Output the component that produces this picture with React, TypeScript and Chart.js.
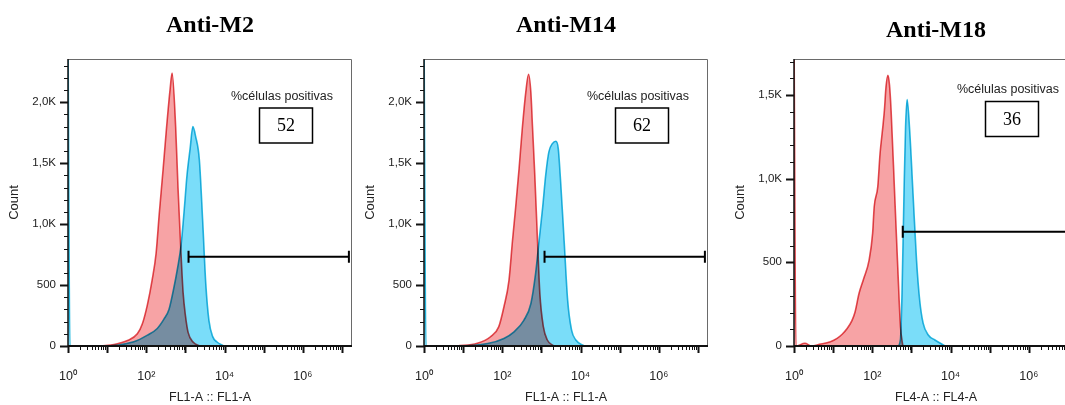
import React, { useEffect, useRef } from 'react';
import { Chart, registerables } from 'chart.js';

Chart.register(...registerables);

// ---------- data ----------
const TITLES = ['Anti-M2', 'Anti-M14', 'Anti-M18'];
const X_AXIS_TITLES = ['FL1-A :: FL1-A', 'FL1-A :: FL1-A', 'FL4-A :: FL4-A'];
const Y_AXIS_TITLE = 'Count';
const POSITIVE_LABEL = '%células positivas';
const POSITIVE_PCT = ['52', '62', '36'];

const X_MIN = 1;
const X_MAX = 1.8e7;
const X_TICKS = [1, 100, 10000, 1000000];
const X_TICK_LABELS = ['10⁰', '10²', '10⁴', '10⁶'];

const Y_MAX = [2355, 2355, 1715];
const Y_TICKS_M2_M14 = [0, 500, 1000, 1500, 2000];
const Y_TICK_LABELS_M2_M14 = ['0', '500', '1,0K', '1,5K', '2,0K'];
const Y_TICKS_M18 = [0, 500, 1000, 1500];
const Y_TICK_LABELS_M18 = ['0', '500', '1,0K', '1,5K'];
const Y_MINOR_STEP = 100;
const Y_MAJOR_STEP = 500;

const GATE_START = [1200, 1200, 600];
const GATE_END = [1.5e7, 1.5e7, 1.5e7];
const GATE_Y = [733, 733, 683];

// Anti-M2: control (red) and stained (cyan)
const M2_CTRL_X = [7, 15, 33, 59, 79, 107, 141, 178, 214, 269, 331, 407, 457, 562, 646, 750, 871, 1000, 1175, 1585, 2400];
const M2_CTRL_Y = [0, 12, 45, 100, 180, 340, 540, 760, 1080, 1450, 1800, 2110, 2240, 1800, 1300, 840, 440, 250, 110, 30, 0];
const M2_STAIN_X = [1, 1.12, 7, 48, 107, 191, 282, 380, 501, 631, 776, 933, 1096, 1318, 1549, 1820, 2265, 2754, 3311, 3981, 5012, 6310, 9550];
const M2_STAIN_Y = [2600, 0, 0, 35, 89, 144, 220, 300, 470, 640, 830, 1120, 1400, 1620, 1800, 1720, 1530, 1030, 510, 210, 75, 35, 0];

// Anti-M14
const M14_CTRL_X = [7, 23, 50, 81, 110, 148, 182, 219, 269, 324, 398, 468, 537, 589, 676, 794, 912, 1122, 1413, 2089];
const M14_CTRL_Y = [0, 22, 76, 157, 320, 537, 862, 1133, 1458, 1783, 2081, 2230, 2081, 1810, 1404, 862, 428, 157, 49, 0];
const M14_STAIN_X = [1, 1.12, 7, 42, 110, 200, 355, 537, 708, 871, 1072, 1288, 1549, 1905, 2344, 2692, 3090, 3802, 4677, 5888, 7586, 12300];
const M14_STAIN_Y = [2600, 0, 0, 20, 62, 116, 211, 347, 591, 862, 1133, 1404, 1593, 1661, 1680, 1620, 1350, 862, 374, 130, 49, 0];

// Anti-M18
const M18_CTRL_X = [1, 1.12, 1.9, 2.8, 4.5, 8.5, 12.6, 17, 22, 30, 36, 46, 60, 83, 102, 112, 138, 158, 186, 204, 224, 251, 275, 302, 372, 447, 525, 603];
const M18_CTRL_Y = [1900, 0, 16, 0, 10, 26, 46, 70, 100, 150, 200, 315, 400, 513, 673, 832, 951, 1150, 1309, 1409, 1548, 1618, 1560, 1409, 912, 473, 115, 0];
const M18_STAIN_X = [1, 447, 525, 575, 646, 708, 776, 891, 1096, 1349, 1622, 1995, 2692, 3981, 7244];
const M18_STAIN_Y = [0, 0, 40, 316, 913, 1309, 1473, 1309, 913, 513, 275, 135, 66, 36, 0];

const CTRL_X = [M2_CTRL_X, M14_CTRL_X, M18_CTRL_X];
const CTRL_Y = [M2_CTRL_Y, M14_CTRL_Y, M18_CTRL_Y];
const STAIN_X = [M2_STAIN_X, M14_STAIN_X, M18_STAIN_X];
const STAIN_Y = [M2_STAIN_Y, M14_STAIN_Y, M18_STAIN_Y];
const Y_TICKS = [Y_TICKS_M2_M14, Y_TICKS_M2_M14, Y_TICKS_M18];
const Y_TICK_LABELS = [Y_TICK_LABELS_M2_M14, Y_TICK_LABELS_M2_M14, Y_TICK_LABELS_M18];

// ---------- layout / style ----------
const CANVAS_W = 358;
const CANVAS_H = 405;
const CANVAS_LEFT = [0, 356, 726];
const Y_AXIS_W = 68;
const X_AXIS_H = 59;
const TITLE_PAD_TOP = [11, 11, 16];
const TITLE_PAD_BOTTOM = [19.2, 19.2, 14.2];
const LABEL_DY = [38, 38, 31];
const BOX_DY = [66.5, 66.5, 60];

const RED_LINE = 'rgb(226,78,84)';
const RED_FILL = 'rgb(247,163,165)';
const CYAN_LINE = 'rgb(40,186,222)';
const CYAN_FILL = 'rgb(122,221,249)';
const SANS = "'Liberation Sans', Arial, sans-serif";
const SERIF = "'Liberation Serif', 'Times New Roman', serif";

function makePlugin(i: number) {
  return {
    id: 'flowDecor' + i,
    beforeDatasetsDraw(chart: any) {
      chart.ctx.save();
      chart.ctx.globalCompositeOperation = 'multiply';
    },
    afterDatasetsDraw(chart: any) {
      chart.ctx.restore();
    },
    afterDraw(chart: any) {
      const { ctx, chartArea: a, scales } = chart;
      const xs = scales.x;
      const ys = scales.y;
      ctx.save();
      // frame
      ctx.strokeStyle = '#6a6a6a';
      ctx.lineWidth = 1;
      ctx.beginPath();
      ctx.moveTo(a.left, a.top + 0.5);
      ctx.lineTo(a.right - 0.5, a.top + 0.5);
      ctx.lineTo(a.right - 0.5, a.bottom);
      ctx.stroke();
      ctx.strokeStyle = '#111';
      ctx.lineWidth = 1.5;
      ctx.beginPath();
      ctx.moveTo(a.left, a.top);
      ctx.lineTo(a.left, a.bottom);
      ctx.stroke();
      ctx.lineWidth = 2;
      ctx.beginPath();
      ctx.moveTo(a.left, a.bottom);
      ctx.lineTo(a.right, a.bottom);
      ctx.stroke();
      // y tick marks
      for (let v = 0; v <= Y_MAX[i]; v += Y_MINOR_STEP) {
        const y = Math.round(ys.getPixelForValue(v)) + 0.5;
        const major = v % Y_MAJOR_STEP === 0;
        ctx.lineWidth = major ? 2 : 1;
        ctx.beginPath();
        ctx.moveTo(a.left - (major ? 8 : 4), y);
        ctx.lineTo(a.left, y);
        ctx.stroke();
      }
      // x tick marks
      for (let e = 0; e <= 7; e++) {
        for (let m = 1; m <= 9; m++) {
          const v = m * Math.pow(10, e);
          if (v > X_MAX) break;
          const x = Math.round(xs.getPixelForValue(v)) + 0.5;
          const major = m === 1;
          ctx.lineWidth = major ? 2 : 1;
          ctx.beginPath();
          ctx.moveTo(x, a.bottom);
          ctx.lineTo(x, a.bottom + (major ? 7 : 4));
          ctx.stroke();
        }
      }
      // gate
      const gx1 = xs.getPixelForValue(GATE_START[i]);
      const gx2 = xs.getPixelForValue(GATE_END[i]);
      const gy = ys.getPixelForValue(GATE_Y[i]);
      ctx.strokeStyle = '#000';
      ctx.lineWidth = 2;
      ctx.beginPath();
      ctx.moveTo(gx1, gy);
      ctx.lineTo(gx2, gy);
      ctx.moveTo(gx1, gy - 6);
      ctx.lineTo(gx1, gy + 6);
      ctx.moveTo(gx2, gy - 6);
      ctx.lineTo(gx2, gy + 6);
      ctx.stroke();
      // positive cells label + box
      ctx.fillStyle = '#222';
      ctx.font = '12.5px ' + SANS;
      ctx.textAlign = 'center';
      ctx.textBaseline = 'middle';
      ctx.fillText(POSITIVE_LABEL, a.left + 214, a.top + LABEL_DY[i]);
      const bx = a.left + 218;
      const by = a.top + BOX_DY[i];
      ctx.lineWidth = 1.5;
      ctx.strokeStyle = '#000';
      ctx.strokeRect(bx - 26.5, by - 17.5, 53, 35);
      ctx.fillStyle = '#000';
      ctx.font = '18px ' + SERIF;
      ctx.fillText(POSITIVE_PCT[i], bx, by + 1);
      ctx.restore();
    },
  };
}

function Panel({ i }: { i: number }) {
  const ref = useRef<HTMLCanvasElement | null>(null);
  useEffect(() => {
    if (!ref.current) return;
    const pts = (xs: number[], ys: number[]) => xs.map((x, k) => ({ x, y: ys[k] }));
    const chart = new Chart(ref.current, {
      type: 'line',
      data: {
        datasets: [
          {
            label: TITLES[i] + ' stained',
            data: pts(STAIN_X[i], STAIN_Y[i]),
            borderColor: CYAN_LINE,
            backgroundColor: CYAN_FILL,
            fill: 'origin',
            borderWidth: 1.6,
            pointRadius: 0,
            cubicInterpolationMode: 'monotone',
          },
          {
            label: TITLES[i] + ' control',
            data: pts(CTRL_X[i], CTRL_Y[i]),
            borderColor: RED_LINE,
            backgroundColor: RED_FILL,
            fill: 'origin',
            borderWidth: 1.6,
            pointRadius: 0,
            cubicInterpolationMode: 'monotone',
          },
        ],
      },
      options: {
        responsive: false,
        animation: false,
        devicePixelRatio: 1,
        layout: { padding: { left: 0, right: CANVAS_W - Y_AXIS_W - 284, top: 0, bottom: 0 } },
        plugins: {
          legend: { display: false },
          tooltip: { enabled: false },
          title: {
            display: true,
            text: TITLES[i],
            fullSize: false,
            color: '#000',
            font: { family: SERIF, size: 24, weight: 'bold', lineHeight: 1.2 },
            padding: { top: TITLE_PAD_TOP[i], bottom: TITLE_PAD_BOTTOM[i] },
          },
        },
        scales: {
          x: {
            type: 'logarithmic',
            min: X_MIN,
            max: X_MAX,
            afterBuildTicks: (s: any) => {
              s.ticks = X_TICKS.map((v) => ({ value: v }));
            },
            afterFit: (s: any) => {
              s.height = X_AXIS_H;
            },
            grid: { display: false, drawTicks: false },
            border: { display: false },
            ticks: {
              autoSkip: false,
              maxRotation: 0,
              padding: 23,
              color: '#222',
              font: { family: SANS, size: 12.5 },
              callback: (_v: any, k: number) => X_TICK_LABELS[k],
            },
            title: {
              display: true,
              text: X_AXIS_TITLES[i],
              color: '#222',
              font: { family: SANS, size: 12.5 },
              padding: { top: 0, bottom: 0 },
            },
          },
          y: {
            type: 'linear',
            min: 0,
            max: Y_MAX[i],
            afterBuildTicks: (s: any) => {
              s.ticks = Y_TICKS[i].map((v) => ({ value: v }));
            },
            afterFit: (s: any) => {
              s.width = Y_AXIS_W;
            },
            grid: { display: false, drawTicks: false },
            border: { display: false },
            ticks: {
              autoSkip: false,
              padding: 12,
              color: '#222',
              font: { family: SANS, size: 11.5 },
              callback: (_v: any, k: number) => Y_TICK_LABELS[i][k],
            },
            title: {
              display: true,
              text: Y_AXIS_TITLE,
              color: '#222',
              font: { family: SANS, size: 13 },
              padding: { top: 7, bottom: 0 },
            },
          },
        },
      },
      plugins: [makePlugin(i)],
    } as any);
    return () => chart.destroy();
  }, [i]);
  return (
    <canvas
      ref={ref}
      width={CANVAS_W}
      height={CANVAS_H}
      style={{ position: 'absolute', left: CANVAS_LEFT[i], top: 0, width: CANVAS_W, height: CANVAS_H }}
    />
  );
}

export default function App() {
  return (
    <div
      style={{
        position: 'absolute',
        left: 0,
        top: 0,
        width: 1065,
        height: 405,
        overflow: 'hidden',
        background: '#fff',
      }}
    >
      {TITLES.map((_, i) => (
        <Panel key={i} i={i} />
      ))}
    </div>
  );
}
